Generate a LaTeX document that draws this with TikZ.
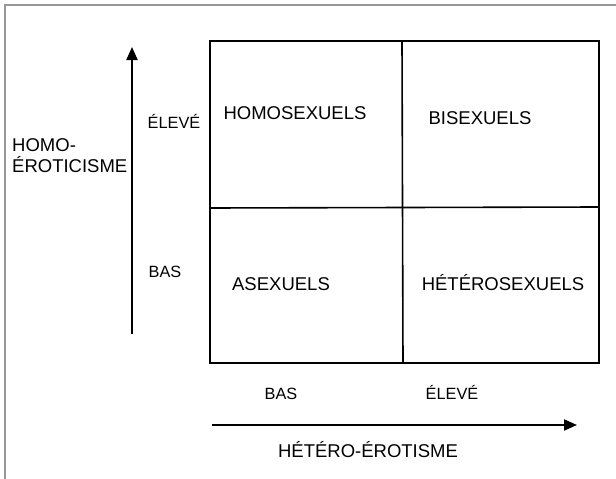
\documentclass[tikz,border=0pt]{standalone}
\usepackage{fontspec}
\setmainfont{Liberation Sans}
\usepackage{tikz}
\usetikzlibrary{positioning,arrows.meta}

\tikzset{
  big/.style={font=\fontsize{18.5}{21}\selectfont, inner sep=0pt, anchor=base},
  small/.style={font=\fontsize{16.3}{19}\selectfont, inner sep=0pt, anchor=base},
  axe/.style={line width=2pt, -{Triangle[length=13pt,width=11pt]}}
}

\begin{document}
\begin{tikzpicture}[x=1pt,y=1pt,yscale=-1,xscale=1]
\useasboundingbox (0,0) rectangle (616,479);

%Frame
\draw [color={rgb, 255:red, 150; green, 150; blue, 155 }, line width=1.5pt] (616,5) -- (5,5) -- (5,479) ;

%Shape: Rectangle
\coordinate (nw) at (210,41);
\coordinate (se) at (599,363);
\coordinate (mn) at (402,41);
\coordinate (ms) at (403,363);
\coordinate (mw) at (210,208);
\coordinate (me) at (599,207);
\draw [line width=2pt] (nw) rectangle (se) ;
%Straight Lines
\draw [line width=1.6pt] (mn) -- (ms) ;
\draw [line width=1.6pt] (mw) -- (me) ;

%Cell labels
\node [big] (homo) at (295,119.5) {HOMOSEXUELS};
\node [big] (bi) at (480,124.5) {BISEXUELS};
\node [big] (asex) at (281,290.5) {ASEXUELS};
\node [big] (hetero) at (503,290.5) {HÉTÉROSEXUELS};

%Vertical axis
\coordinate (vbot) at (132,334);
\coordinate (vtop) at (132,47);
\draw [axe] (vbot) -- (vtop) ;
\node [big, anchor=base west, align=left] (homoero) at (12,172) {HOMO-\\ÉROTICISME};
\node [small] (veleve) at (174,128) {ÉLEVÉ};
\node [small] (vbas) at (165,277) {BAS};

%Horizontal axis
\coordinate (hleft) at (212,425);
\coordinate (hright) at (577,425);
\draw [axe] (hleft) -- (hright) ;
\node [small] (hbas) at (281,399) {BAS};
\node [small] (heleve) at (452,399) {ÉLEVÉ};
\node [big] (heteroero) at (368,457) {HÉTÉRO-ÉROTISME};

\end{tikzpicture}
\end{document}
